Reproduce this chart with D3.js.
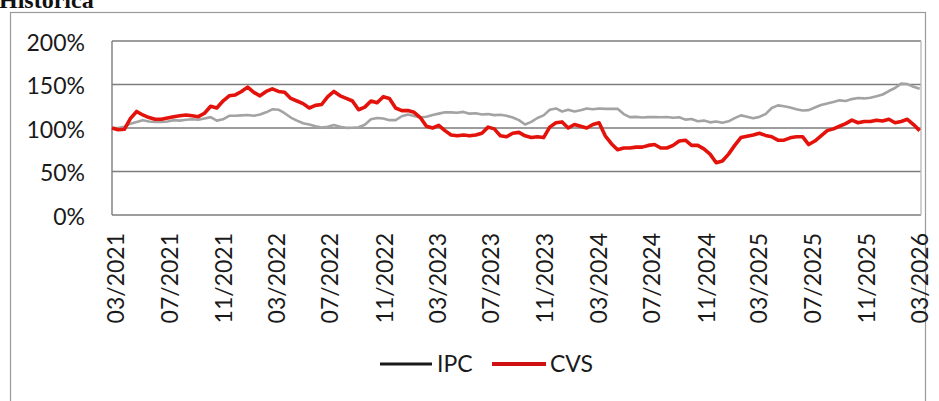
<!DOCTYPE html>
<html lang="es">
  <head>
    <meta charset="utf-8">
    <title>Historica</title>
    <script src="https://d3js.org/d3.v7.min.js"></script>
    <style>
      body{ margin:0; background:#fff; }
      text{ font-family: Lato, "Open Sans", sans-serif; fill:#1a1a1a; }
    </style>
  </head>
  <body>
    <svg id="chart"></svg>
    <script>
      // one reading every 14 days, starting 20 Feb 2021
      var startDate = new Date(2021, 1, 20);
      var endDate = new Date(2026, 2, 3);
      var stepDays = 14;

      var cvs = [100,98,98.5,111,119,115,112,110,110,111.5,113,114,115,114,113,117,125,123,131,137,
        138,142,147,141,137,142,145,142,141,134,131,128,123,126,127,136,142,137,134,131,
        121,124,131,129,136,134,123,120,120,118,112,102,100,103,97,92,91,92,91,92,
        94,101,99,91,90,94,95,91,89,90,89,101,106,107,100,104,102,100,104,106,
        91,82,75,77,77,78,78,80,81,77,77,80,85,86,80,80,76,70,60,62,
        70,80,89,90.6,92,94,91.5,90,86,86,88.7,90,90,81,85,91,97,99,102,105,
        109,106,107.5,107.5,109,108,110,106,107.5,110,104,97];

      var ipc = [100,100,101.5,105,107,109,107.5,107,107,107.5,109,108.5,109.5,110,109.5,111,112.5,108.5,110,114,
        114,114.5,115,114,115.5,118,121.5,121,117,112,108.5,105.5,104,102,100.5,101.5,103.5,101.5,100.2,100.3,
        100.8,103.8,110,111.5,111,109,109,113.5,115.4,113.8,112,113,115,116.5,118,118,117.5,118.5,116.5,117,
        115.5,116,114.8,115.2,114,112,109,104,107,111.5,114.5,121,122.5,119,121,119,120.5,122.5,121.5,122.5,
        122,122,122,116,112.5,112.8,112,112.5,112.6,112.3,112.6,111.8,112.4,109.6,110.3,107.8,108.5,106.5,107.5,106,
        107.7,111.3,114.5,113,111.3,112.8,116,123,126,125,123.5,121.5,120.2,120.5,123.5,126.5,128.2,130,131.8,131,
        133.2,134.4,134,134.8,136.6,138.5,142.5,146,151,150.5,147.3,145.2];

      var tickLabels = ["03/2021","07/2021","11/2021","03/2022","07/2022","11/2022","03/2023","07/2023",
        "11/2023","03/2024","07/2024","11/2024","03/2025","07/2025","11/2025","03/2026"];
      var yTicks = [0, 50, 100, 150, 200];
      var seriesNames = ["IPC", "CVS"];

      function draw(){
        var width = 939, height = 401;
        var plot = {left:112, right:921, top:41, bottom:215};

        var svg = d3.select("#chart")
                    .attr("width", width)
                    .attr("height", height);

        var x = d3.scaleTime()
                  .domain([startDate, endDate])
                  .range([plot.left, plot.right]);
        var y = d3.scaleLinear()
                  .domain([0, 200])
                  .range([plot.bottom, plot.top]);

        var rows = cvs.map(function(v, i){
          return {date: d3.timeDay.offset(startDate, i*stepDays), cvs: v, ipc: ipc[i]};
        });

        // title, cut off by the top of the page
        svg.append("text")
           .text("Historica")
           .attr("x", -1)
           .attr("y", 8)
           .style("font-family", "'Liberation Serif', serif")
           .style("font-weight", "bold")
           .style("font-size", "24px")
           .style("fill", "#111");

        // outer chart frame
        svg.append("rect")
           .attr("x", 10.5)
           .attr("y", 12.5)
           .attr("width", 915)
           .attr("height", 420)
           .attr("fill", "none")
           .attr("stroke", "#9a9a9a")
           .attr("stroke-width", 1.2);

        // gridlines
        svg.selectAll("line.grid")
           .data(yTicks)
           .enter()
           .append("line")
           .attr("class", "grid")
           .attr("x1", plot.left)
           .attr("x2", plot.right)
           .attr("y1", function(d){ return y(d); })
           .attr("y2", function(d){ return y(d); })
           .attr("stroke", "#7d7d7d")
           .attr("stroke-width", 1.4);

        // plot side borders
        svg.selectAll("line.side")
           .data([plot.left, plot.right])
           .enter()
           .append("line")
           .attr("class", "side")
           .attr("x1", function(d){ return d; })
           .attr("x2", function(d){ return d; })
           .attr("y1", plot.top)
           .attr("y2", plot.bottom)
           .attr("stroke", function(d, i){ return i === 0 ? "#7d7d7d" : "#bdbdbd"; })
           .attr("stroke-width", 1.4);

        // y axis labels
        svg.selectAll("text.ylab")
           .data(yTicks)
           .enter()
           .append("text")
           .attr("class", "ylab")
           .text(function(d){ return d + "%"; })
           .attr("x", 85)
           .attr("y", function(d){ return y(d) + 1.5; })
           .attr("dy", "0.35em")
           .attr("text-anchor", "end")
           .style("font-size", "23px");

        // x axis labels, rotated
        var parseMonth = d3.timeParse("%m/%Y");
        svg.selectAll("text.xlab")
           .data(tickLabels)
           .enter()
           .append("text")
           .attr("class", "xlab")
           .text(function(d){ return d; })
           .attr("transform", function(d){
             return "translate(" + x(parseMonth(d)) + ",233) rotate(-90)";
           })
           .attr("dy", "0.35em")
           .attr("text-anchor", "end")
           .style("font-size", "23px");

        // series
        var lineIpc = d3.line()
                        .x(function(d){ return x(d.date); })
                        .y(function(d){ return y(d.ipc); });
        var lineCvs = d3.line()
                        .x(function(d){ return x(d.date); })
                        .y(function(d){ return y(d.cvs); });

        svg.append("path")
           .datum(rows)
           .attr("d", lineIpc)
           .attr("fill", "none")
           .attr("stroke", "#a3a3a3")
           .attr("stroke-width", 2.6)
           .attr("stroke-linejoin", "round");

        svg.append("path")
           .datum(rows)
           .attr("d", lineCvs)
           .attr("fill", "none")
           .attr("stroke", "#e3120b")
           .attr("stroke-width", 3.6)
           .attr("stroke-linejoin", "round");

        // legend
        var legend = [
          {name: seriesNames[0], color: "#1a1a1a", x1: 380, x2: 432, tx: 437, w: 3},
          {name: seriesNames[1], color: "#d01010", x1: 492, x2: 546, tx: 550, w: 4}
        ];
        var lg = svg.selectAll("g.legend")
                    .data(legend)
                    .enter()
                    .append("g")
                    .attr("class", "legend");
        lg.append("line")
          .attr("x1", function(d){ return d.x1; })
          .attr("x2", function(d){ return d.x2; })
          .attr("y1", 364)
          .attr("y2", 364)
          .attr("stroke", function(d){ return d.color; })
          .attr("stroke-width", function(d){ return d.w; });
        lg.append("text")
          .text(function(d){ return d.name; })
          .attr("x", function(d){ return d.tx; })
          .attr("y", 364)
          .attr("dy", "0.35em")
          .style("font-size", "23px");
      }

      draw();
    </script>
  </body>
</html>
